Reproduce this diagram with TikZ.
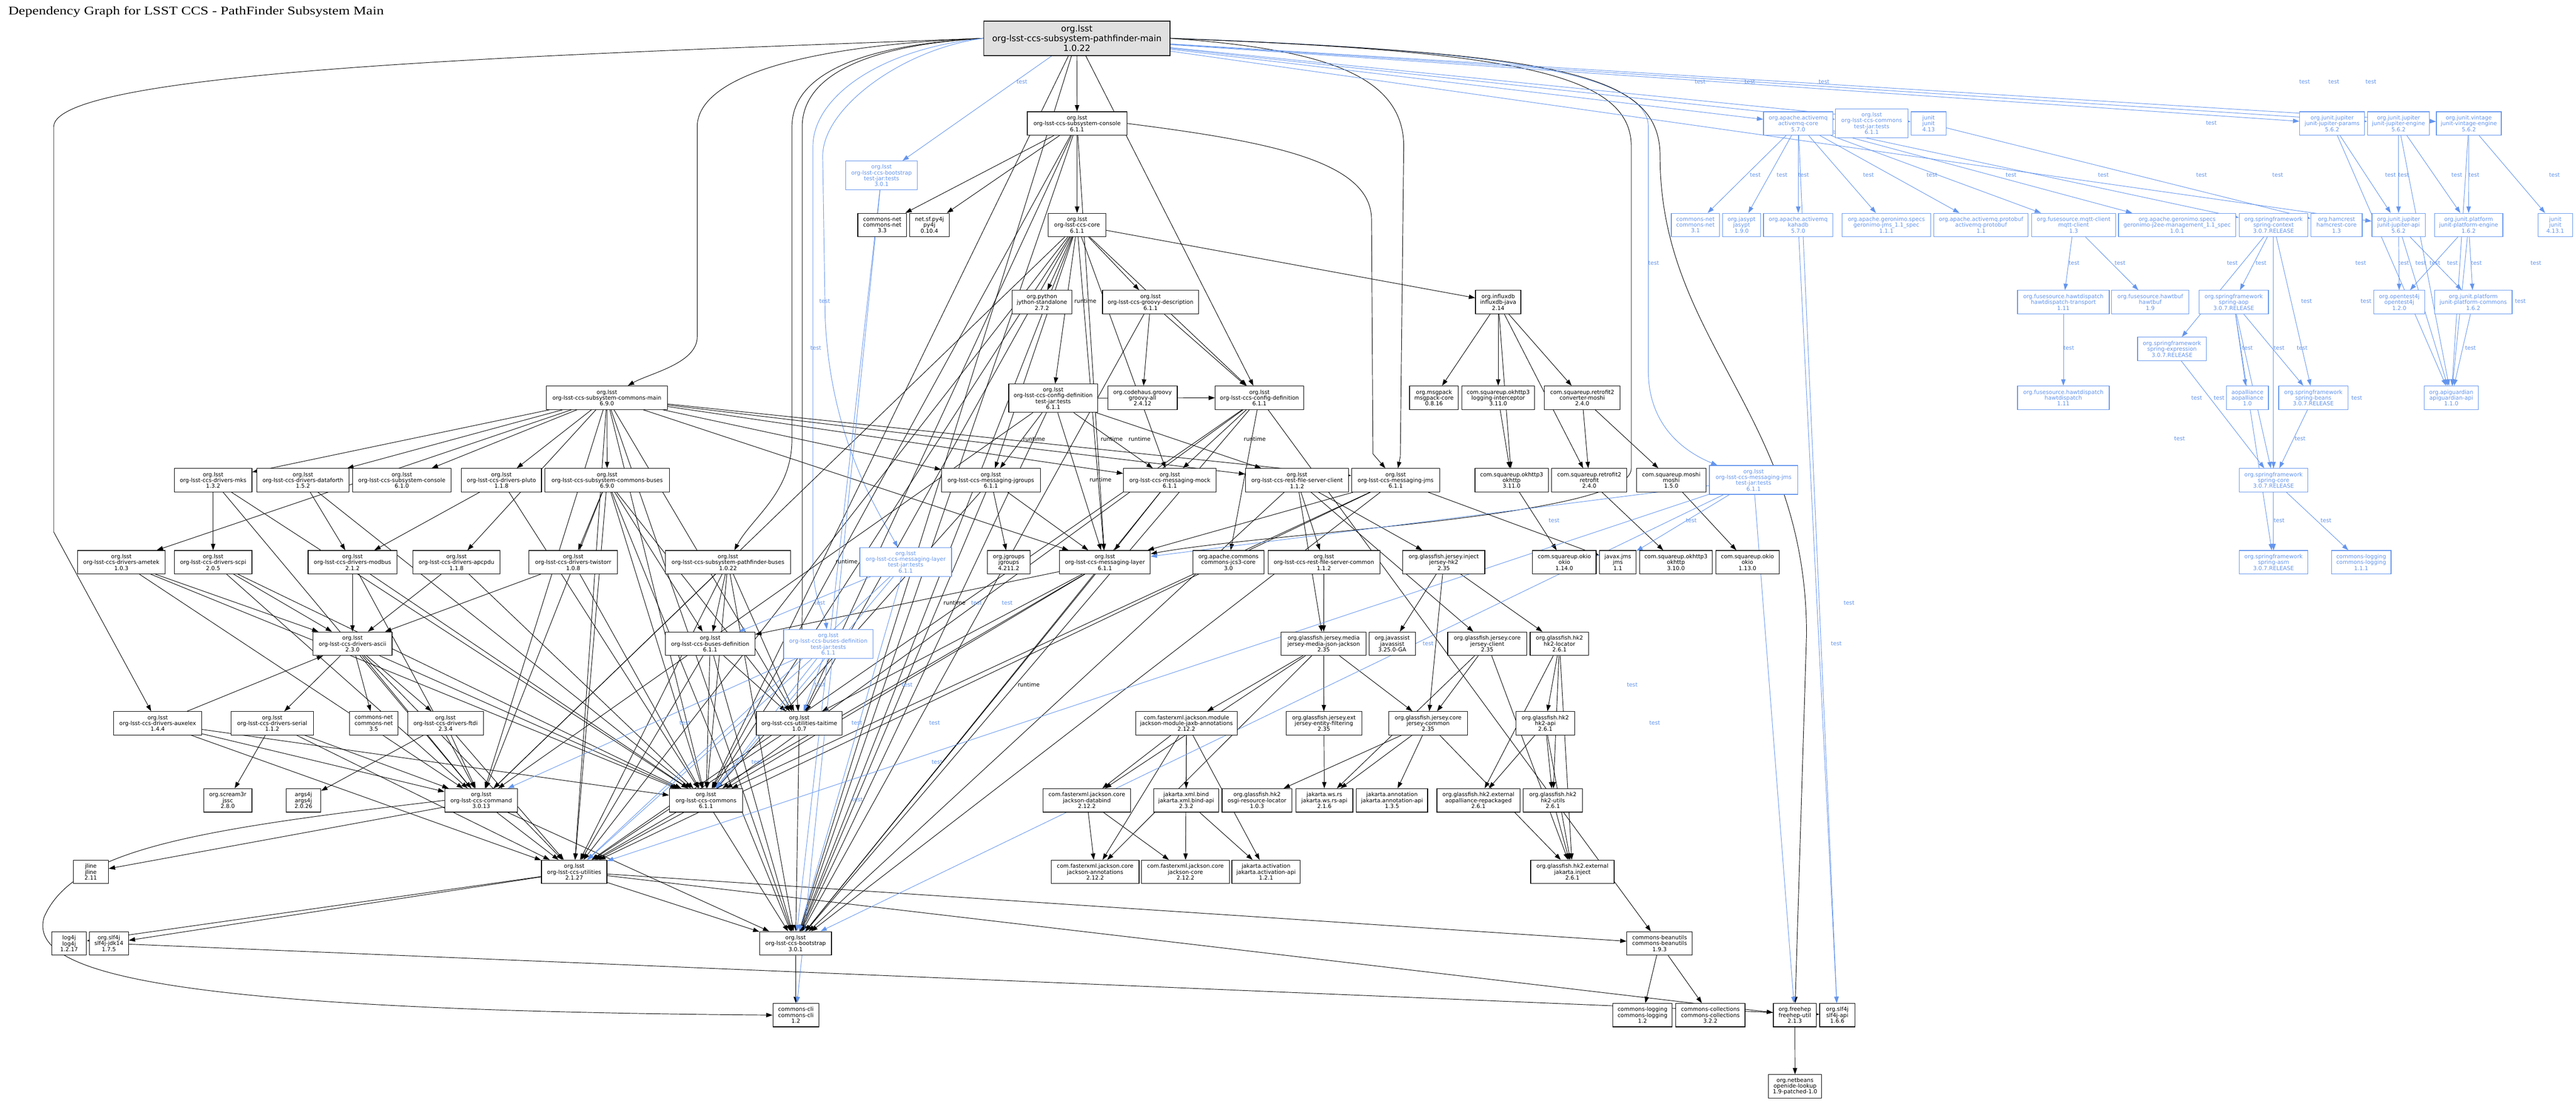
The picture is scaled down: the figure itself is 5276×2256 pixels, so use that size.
\documentclass[tikz,border=0pt]{standalone}
\usepackage{graphicx}
\usepackage{fontspec}
\newfontfamily\nodefam{DejaVu Sans}
\newfontfamily\titlefam{Liberation Serif}
\usetikzlibrary{arrows.meta,backgrounds}
\definecolor{tblue}{RGB}{100,149,237}
\definecolor{mainfill}{RGB}{224,224,224}
\tikzset{
 box/.style={draw=black, line width=1.3pt, fill=white, inner sep=0pt, align=center, font=\nodefam\fontsize{11.4}{12}\selectfont},
 tbox/.style={box, draw=tblue, text=tblue},
 mainbox/.style={box, fill=mainfill, line width=1.8pt, font=\nodefam\fontsize{17.5}{20}\selectfont},
 dep/.style={draw=black, line width=1pt, -{Triangle[length=13pt,width=9pt]}},
 tdep/.style={draw=tblue, line width=1pt, -{Triangle[length=13pt,width=9pt]}},
 lbl/.style={font=\nodefam\fontsize{11.4}{12}\selectfont, inner sep=0pt},
 tlbl/.style={lbl, text=tblue},
}
\newcommand\nd[7]{\node[#1, minimum width=#5pt, minimum height=#6pt] (#2) at (#3,#4) {#7};}
\newcommand\Es[2]{\foreach \tg in {#2}{\draw[dep] (#1) -- (\tg);}}
\newcommand\Ts[2]{\foreach \tg in {#2}{\draw[tdep] (#1) -- (\tg);}}
\begin{document}
\begin{tikzpicture}[x=1pt,y=-1pt]
\useasboundingbox (0,0) rectangle (5276,2256);
\node[anchor=base west, inner sep=0pt] (title) at (17,30) {\titlefam\fontsize{24}{28}\selectfont\scalebox{1.23}[1]{Dependency Graph for LSST CCS - PathFinder Subsystem Main}};
% row A/B
\nd{mainbox}{main}{2205.5}{78.5}{381}{71}{org.lsst\\org-lsst-ccs-subsystem-pathfinder-main\\1.0.22}
\nd{box}{console611}{2206}{253}{204}{48}{org.lsst\\org-lsst-ccs-subsystem-console\\6.1.1}
\nd{tbox}{bootstrapTests}{1805.5}{359.5}{147}{59}{org.lsst\\org-lsst-ccs-bootstrap\\test-jar:tests\\3.0.1}
\nd{tbox}{activemqCore}{3683}{253}{142}{48}{org.apache.activemq\\activemq-core\\5.7.0}
\nd{tbox}{commonsTests}{3833.5}{252.5}{149}{59}{org.lsst\\org-lsst-ccs-commons\\test-jar:tests\\6.1.1}
\nd{tbox}{junitA}{3950}{253}{72}{48}{junit\\junit\\4.13}
\nd{tbox}{params}{4776.5}{253}{133}{48}{org.junit.jupiter\\junit-jupiter-params\\5.6.2}
\nd{tbox}{engine}{4912.5}{253}{127}{48}{org.junit.jupiter\\junit-jupiter-engine\\5.6.2}
\nd{tbox}{vintage}{5056.5}{253}{133}{48}{org.junit.vintage\\junit-vintage-engine\\5.6.2}
% row C
\nd{box}{cnetA}{1807}{461}{100}{48}{commons-net\\commons-net\\3.3}
\nd{box}{pyfj}{1903.5}{461}{81}{48}{net.sf.py4j\\py4j\\0.10.4}
\nd{box}{core}{2206}{461}{118}{48}{org.lsst\\org-lsst-ccs-core\\6.1.1}
\nd{tbox}{cnetB}{3472.5}{461}{99}{48}{commons-net\\commons-net\\3.1}
\nd{tbox}{jasypt}{3567}{461}{78}{48}{org.jasypt\\jasypt\\1.9.0}
\nd{tbox}{kahadb}{3683}{461}{142}{48}{org.apache.activemq\\kahadb\\5.7.0}
\nd{tbox}{geroJms}{3863.5}{461}{181}{48}{org.apache.geronimo.specs\\geronimo-jms\_1.1\_spec\\1.1.1}
\nd{tbox}{protobuf}{4057.5}{461}{193}{48}{org.apache.activemq.protobuf\\activemq-protobuf\\1.1}
\nd{tbox}{mqtt}{4247}{461}{172}{48}{org.fusesource.mqtt-client\\mqtt-client\\1.3}
\nd{tbox}{jtwoee}{4459}{461}{240}{48}{org.apache.geronimo.specs\\geronimo-j2ee-management\_1.1\_spec\\1.0.1}
\nd{tbox}{springContext}{4656.5}{461}{141}{48}{org.springframework\\spring-context\\3.0.7.RELEASE}
\nd{tbox}{hamcrest}{4785.5}{461}{105}{48}{org.hamcrest\\hamcrest-core\\1.3}
\nd{tbox}{jupApi}{4912.5}{461}{109}{48}{org.junit.jupiter\\junit-jupiter-api\\5.6.2}
\nd{tbox}{platEngine}{5056}{461}{140}{48}{org.junit.platform\\junit-platform-engine\\1.6.2}
\nd{tbox}{junitB}{5233.5}{461}{71}{48}{junit\\junit\\4.13.1}
% row D
\nd{box}{jython}{2134}{619}{122}{48}{org.python\\jython-standalone\\2.7.2}
\nd{box}{groovyDesc}{2356.5}{619}{197}{48}{org.lsst\\org-lsst-ccs-groovy-description\\6.1.1}
\nd{box}{influx}{3068.5}{619}{93}{48}{org.influxdb\\influxdb-java\\2.14}
\nd{tbox}{hawtTr}{4226}{619}{188}{48}{org.fusesource.hawtdispatch\\hawtdispatch-transport\\1.11}
\nd{tbox}{hawtbuf}{4404}{619}{158}{48}{org.fusesource.hawtbuf\\hawtbuf\\1.9}
\nd{tbox}{springAop}{4575}{619}{142}{48}{org.springframework\\spring-aop\\3.0.7.RELEASE}
\nd{tbox}{opentest}{4914}{619}{104}{48}{org.opentest4j\\opentest4j\\1.2.0}
\nd{tbox}{platCommons}{5065.5}{619}{159}{48}{org.junit.platform\\junit-platform-commons\\1.6.2}
\nd{tbox}{springExpr}{4448.5}{715}{141}{48}{org.springframework\\spring-expression\\3.0.7.RELEASE}
% row E
\nd{box}{commonsMain}{1243}{815}{248}{48}{org.lsst\\org-lsst-ccs-subsystem-commons-main\\6.9.0}
\nd{box}{cfgTests}{2157}{816}{182}{58}{org.lsst\\org-lsst-ccs-config-definition\\test-jar:tests\\6.1.1}
\nd{box}{groovyAll}{2340}{815}{142}{48}{org.codehaus.groovy\\groovy-all\\2.4.12}
\nd{box}{cfgDef}{2579.5}{815}{181}{48}{org.lsst\\org-lsst-ccs-config-definition\\6.1.1}
\nd{box}{msgpack}{2937}{815}{100}{48}{org.msgpack\\msgpack-core\\0.8.16}
\nd{box}{logInt}{3068.5}{815}{149}{48}{com.squareup.okhttp3\\logging-interceptor\\3.11.0}
\nd{box}{convMoshi}{3240.5}{815}{155}{48}{com.squareup.retrofit2\\converter-moshi\\2.4.0}
\nd{tbox}{hawtdisp}{4226}{815}{188}{48}{org.fusesource.hawtdispatch\\hawtdispatch\\1.11}
\nd{tbox}{aopalliance}{4603}{815}{86}{48}{aopalliance\\aopalliance\\1.0}
\nd{tbox}{springBeans}{4738}{815}{142}{48}{org.springframework\\spring-beans\\3.0.7.RELEASE}
\nd{tbox}{apiguardian}{5020.5}{815}{111}{48}{org.apiguardian\\apiguardian-api\\1.1.0}
% row F
\nd{box}{mks}{436.5}{984}{159}{48}{org.lsst\\org-lsst-ccs-drivers-mks\\1.3.2}
\nd{box}{dataforth}{620.5}{984}{189}{48}{org.lsst\\org-lsst-ccs-drivers-dataforth\\1.5.2}
\nd{box}{console610}{823}{984}{202}{48}{org.lsst\\org-lsst-ccs-subsystem-console\\6.1.0}
\nd{box}{pluto}{1027}{984}{164}{48}{org.lsst\\org-lsst-ccs-drivers-pluto\\1.1.8}
\nd{box}{commonsBuses}{1243.5}{984}{255}{48}{org.lsst\\org-lsst-ccs-subsystem-commons-buses\\6.9.0}
\nd{box}{jgroupsMsg}{2029.5}{984}{203}{48}{org.lsst\\org-lsst-ccs-messaging-jgroups\\6.1.1}
\nd{box}{mock}{2396}{984}{190}{48}{org.lsst\\org-lsst-ccs-messaging-mock\\6.1.1}
\nd{box}{restClient}{2656.5}{984}{211}{48}{org.lsst\\org-lsst-ccs-rest-file-server-client\\1.1.2}
\nd{box}{jms}{2858.5}{984}{181}{48}{org.lsst\\org-lsst-ccs-messaging-jms\\6.1.1}
\nd{box}{okhttpA}{3096}{984}{150}{48}{com.squareup.okhttp3\\okhttp\\3.11.0}
\nd{box}{retrofit}{3255}{984}{154}{48}{com.squareup.retrofit2\\retrofit\\2.4.0}
\nd{box}{moshi}{3423}{984}{142}{48}{com.squareup.moshi\\moshi\\1.5.0}
\nd{tbox}{jmsTests}{3591.5}{983.5}{181}{59}{org.lsst\\org-lsst-ccs-messaging-jms\\test-jar:tests\\6.1.1}
\nd{tbox}{springCore}{4656.5}{984}{141}{48}{org.springframework\\spring-core\\3.0.7.RELEASE}
% row G
\nd{box}{ametek}{248.5}{1152}{179}{48}{org.lsst\\org-lsst-ccs-drivers-ametek\\1.0.3}
\nd{box}{scpi}{436.5}{1152}{159}{48}{org.lsst\\org-lsst-ccs-drivers-scpi\\2.0.5}
\nd{box}{modbus}{722}{1152}{182}{48}{org.lsst\\org-lsst-ccs-drivers-modbus\\2.1.2}
\nd{box}{apcpdu}{935}{1152}{178}{48}{org.lsst\\org-lsst-ccs-drivers-apcpdu\\1.1.8}
\nd{box}{twistorr}{1174}{1152}{182}{48}{org.lsst\\org-lsst-ccs-drivers-twistorr\\1.0.8}
\nd{box}{pfBuses}{1491}{1152}{256}{48}{org.lsst\\org-lsst-ccs-subsystem-pathfinder-buses\\1.0.22}
\nd{tbox}{layerTests}{1855}{1151.5}{188}{59}{org.lsst\\org-lsst-ccs-messaging-layer\\test-jar:tests\\6.1.1}
\nd{box}{jgroups}{2066}{1152}{88}{48}{org.jgroups\\jgroups\\4.211.2}
\nd{box}{layer}{2263}{1152}{186}{48}{org.lsst\\org-lsst-ccs-messaging-layer\\6.1.1}
\nd{box}{jcs}{2516}{1152}{146}{48}{org.apache.commons\\commons-jcs3-core\\3.0}
\nd{box}{restCommon}{2711.5}{1152}{229}{48}{org.lsst\\org-lsst-ccs-rest-file-server-common\\1.1.2}
\nd{box}{jerseyHk}{2957}{1152}{168}{48}{org.glassfish.jersey.inject\\jersey-hk2\\2.35}
\nd{box}{okioA}{3204}{1152}{130}{48}{com.squareup.okio\\okio\\1.14.0}
\nd{box}{javaxJms}{3313.5}{1152}{75}{48}{javax.jms\\jms\\1.1}
\nd{box}{okhttpB}{3432.5}{1152}{149}{48}{com.squareup.okhttp3\\okhttp\\3.10.0}
\nd{box}{okioB}{3579}{1152}{130}{48}{com.squareup.okio\\okio\\1.13.0}
\nd{tbox}{springAsm}{4656.5}{1152}{141}{48}{org.springframework\\spring-asm\\3.0.7.RELEASE}
\nd{tbox}{clogA}{4836}{1152}{122}{48}{commons-logging\\commons-logging\\1.1.1}
% row H
\nd{box}{ascii}{722}{1319}{162}{48}{org.lsst\\org-lsst-ccs-drivers-ascii\\2.3.0}
\nd{box}{busesDef}{1454.5}{1319}{183}{48}{org.lsst\\org-lsst-ccs-buses-definition\\6.1.1}
\nd{tbox}{busesDefTests}{1696.5}{1319.5}{183}{59}{org.lsst\\org-lsst-ccs-buses-definition\\test-jar:tests\\6.1.1}
\nd{box}{jsonJackson}{2711}{1319}{174}{48}{org.glassfish.jersey.media\\jersey-media-json-jackson\\2.35}
\nd{box}{javassist}{2851.5}{1319}{95}{48}{org.javassist\\javassist\\3.25.0-GA}
\nd{box}{jerseyClient}{3046}{1319}{162}{48}{org.glassfish.jersey.core\\jersey-client\\2.35}
\nd{box}{hkLocator}{3194}{1319}{120}{48}{org.glassfish.hk2\\hk2-locator\\2.6.1}
% row I
\nd{box}{auxelex}{323}{1482}{180}{48}{org.lsst\\org-lsst-ccs-drivers-auxelex\\1.4.4}
\nd{box}{serial}{557.5}{1482}{169}{48}{org.lsst\\org-lsst-ccs-drivers-serial\\1.1.2}
\nd{box}{cnetC}{765.5}{1482}{99}{48}{commons-net\\commons-net\\3.5}
\nd{box}{ftdi}{912.5}{1482}{155}{48}{org.lsst\\org-lsst-ccs-drivers-ftdi\\2.3.4}
\nd{box}{taitime}{1637}{1482}{176}{48}{org.lsst\\org-lsst-ccs-utilities-taitime\\1.0.7}
\nd{box}{jaxbAnn}{2430}{1482}{208}{48}{com.fasterxml.jackson.module\\jackson-module-jaxb-annotations\\2.12.2}
\nd{box}{entityFilt}{2711.5}{1482}{155}{48}{org.glassfish.jersey.ext\\jersey-entity-filtering\\2.35}
\nd{box}{jerseyCommon}{2925}{1482}{162}{48}{org.glassfish.jersey.core\\jersey-common\\2.35}
\nd{box}{hkApi}{3165}{1482}{120}{48}{org.glassfish.hk2\\hk2-api\\2.6.1}
% row J
\nd{box}{jssc}{466.5}{1640}{99}{48}{org.scream3r\\jssc\\2.8.0}
\nd{box}{argsfj}{621.5}{1640}{71}{48}{args4j\\args4j\\2.0.26}
\nd{box}{command}{985.5}{1640}{149}{48}{org.lsst\\org-lsst-ccs-command\\3.0.13}
\nd{box}{commons}{1446}{1640}{150}{48}{org.lsst\\org-lsst-ccs-commons\\6.1.1}
\nd{box}{jDatabind}{2226}{1640}{180}{48}{com.fasterxml.jackson.core\\jackson-databind\\2.12.2}
\nd{box}{jaxbApi}{2429.5}{1640}{133}{48}{jakarta.xml.bind\\jakarta.xml.bind-api\\2.3.2}
\nd{box}{osgi}{2574.5}{1640}{143}{48}{org.glassfish.hk2\\osgi-resource-locator\\1.0.3}
\nd{box}{wsrs}{2712.5}{1640}{117}{48}{jakarta.ws.rs\\jakarta.ws.rs-api\\2.1.6}
\nd{box}{annApi}{2851}{1640}{146}{48}{jakarta.annotation\\jakarta.annotation-api\\1.3.5}
\nd{box}{aopRepack}{3028}{1640}{170}{48}{org.glassfish.hk2.external\\aopalliance-repackaged\\2.6.1}
\nd{box}{hkUtils}{3180.5}{1640}{121}{48}{org.glassfish.hk2\\hk2-utils\\2.6.1}
% row K
\nd{box}{jline}{186}{1786.5}{72}{48}{jline\\jline\\2.11}
\nd{box}{utilities}{1176}{1786.5}{134}{48}{org.lsst\\org-lsst-ccs-utilities\\2.1.27}
\nd{box}{jAnn}{2243}{1786.5}{180}{48}{com.fasterxml.jackson.core\\jackson-annotations\\2.12.2}
\nd{box}{jCore}{2428}{1786.5}{180}{48}{com.fasterxml.jackson.core\\jackson-core\\2.12.2}
\nd{box}{activation}{2593}{1786.5}{140}{48}{jakarta.activation\\jakarta.activation-api\\1.2.1}
\nd{box}{jInject}{3220.5}{1786.5}{171}{48}{org.glassfish.hk2.external\\jakarta.inject\\2.6.1}
% row L
\nd{box}{log4j}{141.5}{1933}{71}{48}{log4j\\log4j\\1.2.17}
\nd{box}{slfJdk}{223}{1933}{80}{48}{org.slf4j\\slf4j-jdk14\\1.7.5}
\nd{box}{bootstrap}{1629.5}{1933}{147}{48}{org.lsst\\org-lsst-ccs-bootstrap\\3.0.1}
\nd{box}{beanutils}{3399}{1933}{134}{48}{commons-beanutils\\commons-beanutils\\1.9.3}
% row M
\nd{box}{cli}{1630}{2080}{94}{48}{commons-cli\\commons-cli\\1.2}
\nd{box}{clogB}{3364}{2080}{122}{48}{commons-logging\\commons-logging\\1.2}
\nd{box}{ccoll}{3503}{2080}{142}{48}{commons-collections\\commons-collections\\3.2.2}
\nd{box}{freehep}{3676}{2080}{88}{48}{org.freehep\\freehep-util\\2.1.3}
\nd{box}{slfApi}{3763}{2080}{72}{48}{org.slf4j\\slf4j-api\\1.6.6}
\nd{box}{openide}{3676.5}{2226}{109}{48}{org.netbeans\\openide-lookup\\1.9-patched-1.0}

\begin{scope}[on background layer]
\fill[white] (0,0) rectangle (5276,2256);
% special routes
\draw[dep] (main.west) .. controls (1200,110) and (110,140) .. (110,260) -- (110,1090) -- (auxelex);
\draw[dep] (main.west) .. controls (1600,95) and (1428,170) .. (1428,260) -- (1428,690) .. controls (1428,745) and (1330,765) .. (commonsMain);
\draw[dep] (main.west) .. controls (1720,95) and (1622,170) .. (1622,260) -- (1622,900) .. controls (1622,1010) and (1540,1060) .. (pfBuses);
\draw[dep] (main.west) .. controls (1740,95) and (1643,170) .. (1643,260) -- (1643,1250) .. controls (1643,1350) and (1630,1400) .. (taitime);
\draw[tdep] (main.west) .. controls (1800,100) and (1665,200) .. (1665,300) -- (1665,1150) .. controls (1665,1230) and (1690,1260) .. (busesDefTests);
\draw[tdep] (main.west) .. controls (1850,100) and (1685,220) .. (1685,320) -- (1690,650) .. controls (1700,900) and (1800,1050) .. (layerTests);
\draw[tdep] (main.east) .. controls (3000,100) and (3376,140) .. (3376,260) -- (3376,760) .. controls (3376,880) and (3460,930) .. (jmsTests);
\draw[dep] (main.east) .. controls (2700,100) and (2875,150) .. (2875,300) -- (2868,935) -- (jms);
\draw[dep] (main.east) .. controls (3100,105) and (3341,150) .. (3341,300) -- (3341,960) .. controls (3341,1060) and (2600,1090) .. (layer);
\draw[dep] (main.east) .. controls (3200,110) and (3400,150) .. (3400,320) .. controls (3400,700) and (3700,850) .. (3700,1300) -- (freehep);
\draw[dep] (console611.east) .. controls (2600,290) and (2809,330) .. (2809,450) -- (2812,930) -- (jms);
\draw[dep] (command.west) .. controls (400,1700) and (150,1740) .. (90,1880) .. controls (60,1990) and (300,2070) .. (cli.west);
% compile edges
\Es{main}{console611,cfgDef,bootstrap,commons}
\Es{console611}{cnetA,pyfj,core,layer,commons,bootstrap,taitime}
\Es{core}{jython,groovyDesc,cfgDef,influx,cfgTests,layer,jgroupsMsg,mock,commons,utilities,bootstrap,command,taitime}
\Es{groovyDesc}{groovyAll,cfgDef,bootstrap}
\Es{cfgDef}{jcs,beanutils,commons,utilities,bootstrap,mock}
\Es{cfgTests}{jgroupsMsg,mock,layer,restClient,bootstrap,command,cfgDef}
\Es{commonsMain}{mks,dataforth,console610,pluto,commonsBuses,ametek,apcpdu,jgroupsMsg,mock,jms,restClient,layer,commons,utilities,bootstrap,command,taitime}
\Es{commonsBuses}{twistorr,busesDef,taitime,commons,utilities,bootstrap,command}
\Es{pfBuses}{busesDef,taitime,commons,utilities,bootstrap,command}
\Es{busesDef}{taitime,commons,utilities,bootstrap}
\Es{taitime}{utilities,bootstrap}
\Es{layer}{busesDef,taitime,commons,utilities,bootstrap}
\Es{jgroupsMsg}{jgroups,layer,commons,bootstrap}
\Es{mock}{layer,bootstrap}
\Es{jms}{layer,javaxJms,commons,utilities,bootstrap}
\Es{restClient}{restCommon,jerseyHk,jsonJackson,jerseyClient,bootstrap}
\Es{restCommon}{jsonJackson}
\Es{jerseyHk}{javassist,jerseyCommon,hkLocator}
\Es{jerseyClient}{jerseyCommon,wsrs,jInject}
\Es{jsonJackson}{entityFilt,jerseyCommon,jaxbAnn,jDatabind,jAnn}
\Es{entityFilt}{wsrs}
\Es{jerseyCommon}{wsrs,annApi,jInject,osgi}
\Es{hkLocator}{aopRepack,hkApi,hkUtils,jInject}
\Es{hkApi}{aopRepack,hkUtils,jInject}
\Es{hkUtils}{jInject}
\Es{jaxbAnn}{jAnn,jCore,jDatabind,jaxbApi,activation}
\Es{jDatabind}{jAnn,jCore}
\Es{jaxbApi}{activation}
\Es{influx}{msgpack,logInt,okhttpA,convMoshi,retrofit}
\Es{logInt}{okhttpA}
\Es{convMoshi}{retrofit,moshi}
\Es{okhttpA}{okioA}
\Es{retrofit}{okhttpB}
\Es{moshi}{okioB}
\Es{mks}{scpi,command,commons}
\Es{dataforth}{modbus,commons}
\Es{pluto}{modbus,commons}
\Es{apcpdu}{ascii,commons}
\Es{twistorr}{ascii,commons}
\Es{ametek}{ascii,command,commons}
\Es{scpi}{ascii,command,commons}
\Es{modbus}{ascii,command,commons}
\Es{ascii}{serial,cnetC,ftdi,command,commons,utilities}
\Es{serial}{jssc,command,utilities}
\Es{ftdi}{argsfj,command,utilities}
\Es{auxelex}{ascii,command,commons,utilities}
\Es{command}{jline,utilities,bootstrap}
\Es{commons}{utilities,bootstrap}
\Es{utilities}{log4j,slfJdk,beanutils,freehep,bootstrap}
\Es{bootstrap}{cli}
\Es{beanutils}{clogB,ccoll}
\Es{freehep}{openide}
\Es{slfJdk}{slfApi}
% test edges
\Ts{main}{bootstrapTests,activemqCore,commonsTests,junitA,params,engine,vintage,jupApi}
\Ts{junitA}{hamcrest}
\Ts{activemqCore}{cnetB,jasypt,kahadb,geroJms,protobuf,mqtt,jtwoee,springContext,slfApi}
\Ts{kahadb}{slfApi}
\Ts{mqtt}{hawtTr,hawtbuf}
\Ts{hawtTr}{hawtdisp}
\Ts{springContext}{springAop,springExpr,springBeans,springCore,springAsm}
\Ts{springAop}{aopalliance,springBeans,springCore,springAsm}
\Ts{springExpr}{springCore}
\Ts{springBeans}{springCore}
\Ts{springCore}{springAsm,clogA}
\Ts{params}{jupApi,apiguardian}
\Ts{engine}{jupApi,platEngine,apiguardian}
\Ts{vintage}{platEngine,junitB,apiguardian}
\Ts{jupApi}{opentest,platCommons,apiguardian}
\Ts{platEngine}{opentest,platCommons,apiguardian}
\Ts{platCommons}{apiguardian}
\Ts{bootstrapTests}{bootstrap,cli}
\Ts{layerTests}{busesDef,commons,utilities,bootstrap}
\Ts{busesDefTests}{taitime,commons,utilities,command}
\Ts{jmsTests}{layer,javaxJms,utilities,bootstrap,freehep}
\end{scope}
% edge labels
\foreach \lx/\ly [count=\i] in {2093/168,1689/617,1671/713,3482/168,3584/168,3736/168,4720/168,4780/168,4856/168,4529/252,3595/359,3650/359,3694/359,3827/359,3957/359,4119/359,4308/359,4509/359,4665/359,4896/359,4923/359,5032/359,5067/359,5232/359,3387/539,4248/539,4342/539,4572/539,4631/539,4835/539,4923/539,4958/539,4987/539,5023/539,5072/539,5194/539,4724/617,4846/617,5162/617,4237/713,4603/713,4668/713,4715/713,5060/713,4499/815,4545/815,4827/815,4464/899,4711/899,4668/1067,4764/1067,1679/1235,2000/1235,2063/1235,1679/1403,1858/1403,1403/1481,1755/1481,1914/1481,3183/1067,3464/1067,2925/1319,3787/1235,3761/1319,3343/1403,3389/1481,1550/1561,1919/1561,1756/1639}
 {\node[tlbl] (t\i) at (\lx,\ly) {test};}
\foreach \lx/\ly [count=\i] in {2223/617,2118/899,2277/899,2334/899,2570/899,2254/983,1734/1151,1955/1235,2107/1403}
 {\node[lbl] (r\i) at (\lx,\ly) {runtime};}
\end{tikzpicture}
\end{document}
